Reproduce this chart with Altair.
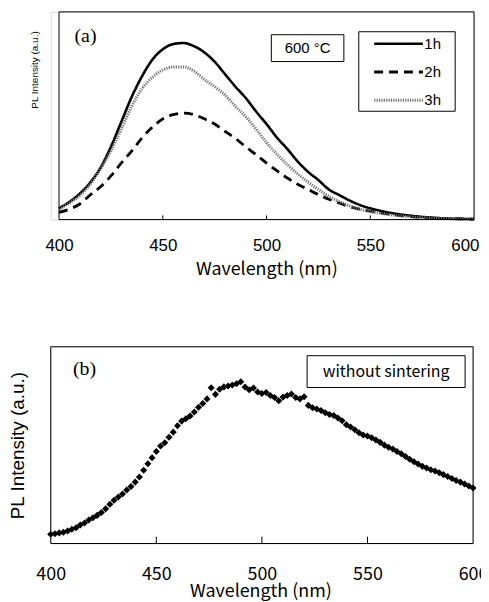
import altair as alt
import pandas as pd

# ---------------- data ----------------
wl_a = list(range(400, 601, 5))
i_1h = [0.055, 0.085, 0.125, 0.178, 0.25, 0.35, 0.47, 0.59, 0.69, 0.77, 0.82,
        0.845, 0.85, 0.835, 0.805, 0.76, 0.70, 0.64, 0.585, 0.52, 0.46, 0.395,
        0.34, 0.28, 0.23, 0.19, 0.145, 0.118, 0.092, 0.07, 0.054, 0.042, 0.032,
        0.024, 0.018, 0.013, 0.009, 0.006, 0.004, 0.003, 0.002]
i_2h = [0.035, 0.05, 0.075, 0.118, 0.158, 0.21, 0.272, 0.33, 0.393, 0.445, 0.485,
        0.505, 0.512, 0.505, 0.485, 0.46, 0.425, 0.39, 0.35, 0.312, 0.272, 0.235,
        0.2, 0.17, 0.145, 0.12, 0.098, 0.08, 0.062, 0.05, 0.04, 0.032, 0.025,
        0.019, 0.014, 0.01, 0.007, 0.005, 0.004, 0.003, 0.002]
i_3h = [0.05, 0.08, 0.115, 0.17, 0.245, 0.33, 0.435, 0.545, 0.63, 0.685, 0.72,
        0.735, 0.735, 0.715, 0.675, 0.64, 0.60, 0.545, 0.495, 0.435, 0.37, 0.315,
        0.265, 0.22, 0.18, 0.145, 0.112, 0.087, 0.066, 0.05, 0.038, 0.03, 0.023,
        0.017, 0.013, 0.009, 0.007, 0.005, 0.004, 0.003, 0.002]
series = ["1h", "2h", "3h"]

wl_b = list(range(400, 601, 2))
i_b = [0.047, 0.050, 0.054, 0.057, 0.064, 0.072, 0.080, 0.094, 0.104, 0.120,
       0.131, 0.143, 0.157, 0.176, 0.200, 0.220, 0.236, 0.252, 0.272, 0.290,
       0.312, 0.338, 0.372, 0.405, 0.436, 0.468, 0.495, 0.512, 0.540, 0.566,
       0.598, 0.622, 0.634, 0.648, 0.668, 0.692, 0.712, 0.735, 0.792, 0.758,
       0.784, 0.796, 0.800, 0.806, 0.812, 0.822, 0.795, 0.782, 0.790, 0.770,
       0.762, 0.768, 0.752, 0.742, 0.726, 0.744, 0.752, 0.760, 0.742, 0.735,
       0.746, 0.702, 0.690, 0.684, 0.676, 0.664, 0.656, 0.650, 0.638, 0.624,
       0.604, 0.592, 0.578, 0.563, 0.552, 0.546, 0.538, 0.526, 0.514, 0.500,
       0.489, 0.480, 0.468, 0.456, 0.442, 0.428, 0.416, 0.404, 0.392, 0.384,
       0.375, 0.368, 0.360, 0.350, 0.340, 0.330, 0.320, 0.312, 0.302, 0.292,
       0.282]

x_labels = [400, 450, 500, 550, 600]
inner_ticks = [450, 500, 550]
x_min, x_max = 400, 600

# ---------------- tables ----------------
rows = []
for name, vals in zip(series, [i_1h, i_2h, i_3h]):
    for w, v in zip(wl_a, vals):
        rows.append({"wl": w, "I": v, "series": name})
df_a = pd.DataFrame(rows)
df_b = pd.DataFrame({"wl": wl_b, "I": i_b})

frame_df = pd.DataFrame({"wl": [x_min, x_min, x_min, x_max],
                         "wl2": [x_max, x_max, x_min, x_max],
                         "I": [0, 1, 0, 0], "I2": [0, 1, 1, 1]})

SANS = "Liberation Sans"
GOTH = "Noto Sans CJK JP"
SERIF = "Liberation Serif"


def frame_layers(tick_h):
    fr = alt.Chart(frame_df).mark_rule(color="black", strokeWidth=1).encode(
        x="wl:Q", x2="wl2:Q", y="I:Q", y2="I2:Q")
    tk = alt.Chart(pd.DataFrame({"wl": inner_ticks, "I": [0] * 3, "I2": [tick_h] * 3})
                   ).mark_rule(color="black", strokeWidth=1).encode(
        x="wl:Q", y="I:Q", y2="I2:Q")
    return [fr, tk]


def one_text(txt, x, y, font, size, align="center"):
    return alt.Chart(pd.DataFrame({"label": [txt]})).mark_text(
        font=font, fontSize=size, color="black", align=align, baseline="middle"
    ).encode(x=alt.value(x), y=alt.value(y), text="label:N")


def box(x1, x2, y1, y2):
    return alt.Chart(pd.DataFrame({"k": [0]})).mark_rect(
        fill="white", fillOpacity=0, stroke="black", strokeWidth=1
    ).encode(x=alt.value(x1), x2=alt.value(x2), y=alt.value(y1), y2=alt.value(y2))


# ---------------- panel (a) ----------------
W_A, H_A = 426, 209
leg = alt.Legend(orient="none", legendX=324, legendY=25, title=None,
                 symbolType="stroke", symbolSize=2401, clipHeight=14,
                 rowPadding=13.5, labelFont=SANS, labelFontSize=15,
                 labelColor="black", labelOffset=0, padding=0)

lines_a = alt.Chart(df_a).mark_line(interpolate="monotone").encode(
    x=alt.X("wl:Q", scale=alt.Scale(domain=[396, 600], nice=False, zero=False),
            axis=alt.Axis(values=x_labels, ticks=False, domain=False, grid=False,
                          labelFont=SANS, labelFontSize=17, labelColor="black",
                          labelPadding=18, labelFlush=False, labelOverlap=False,
                          labelAlign=alt.expr("datum.value == 600 ? 'right' : 'center'"),
                          labelOffset=alt.expr("datum.value == 600 ? 5 : 0"),
                          title="Wavelength (nm)", titleFont=GOTH, titleFontSize=18,
                          titleFontWeight="normal", titleColor="black",
                          titleX=217, titleY=50, titleBaseline="middle")),
    y=alt.Y("I:Q", scale=alt.Scale(domain=[0, 1], nice=False),
            axis=alt.Axis(labels=False, ticks=False, domain=False, grid=False,
                          title="PL Intensity (a.u.)", titleFont=SANS,
                          titleFontSize=10, titleFontWeight="normal",
                          titleColor="black", titleX=-16, titleY=58,
                          titleAlign="center", titleBaseline="middle")),
    color=alt.Color("series:N", scale=alt.Scale(domain=series,
                    range=["black", "black", "#707070"]), legend=leg),
    strokeDash=alt.StrokeDash("series:N", scale=alt.Scale(domain=series,
                              range=[[1, 0], [9, 6], [1.2, 1.2]]), legend=leg),
    strokeWidth=alt.StrokeWidth("series:N", scale=alt.Scale(domain=series,
                                range=[2.6, 3, 1.1]), legend=leg),
)

panel_a = alt.layer(
    lines_a,
    *frame_layers(0.02),
    box(222, 295, 23, 50),
    one_text("600 °C", 258.5, 36.5, SANS, 15),
    box(310, 407, 20, 100),
    one_text("(a)", 35, 24, SERIF, 20),
).properties(width=W_A, height=H_A)

# ---------------- panel (b) ----------------
W_B, H_B = 425, 198
pts_b = alt.Chart(df_b).mark_point(shape="diamond", filled=True, color="black",
                                   size=50, opacity=1).encode(
    x=alt.X("wl:Q", scale=alt.Scale(domain=[x_min, x_max], nice=False, zero=False),
            axis=alt.Axis(values=x_labels, ticks=False, domain=False, grid=False,
                          labelFont=GOTH, labelFontSize=18, labelColor="black",
                          labelPadding=22, labelFlush=False, labelOverlap=False,
                          title="Wavelength (nm)", titleFont=GOTH, titleFontSize=18,
                          titleFontWeight="normal", titleColor="black",
                          titleX=211, titleY=48.5, titleBaseline="middle")),
    y=alt.Y("I:Q", scale=alt.Scale(domain=[0, 1], nice=False),
            axis=alt.Axis(labels=False, ticks=False, domain=False, grid=False,
                          title="PL Intensity (a.u.)", titleFont=SANS,
                          titleFontSize=19, titleFontWeight="normal",
                          titleColor="black", titleX=-33, titleY=99,
                          titleAlign="center", titleBaseline="middle")),
)

panel_b = alt.layer(
    pts_b,
    *frame_layers(0.035),
    box(258, 417, 9, 41),
    one_text("without sintering", 337.5, 25, GOTH, 16),
    one_text("(b)", 34, 22, SERIF, 20),
).properties(width=W_B, height=H_B)

chart = alt.vconcat(panel_a, panel_b, spacing=67).properties(
    padding={"left": 0, "top": 1, "right": -8, "bottom": 3}
).configure_view(stroke=None).configure(background="white")

chart.save("out.html", embed_options={"renderer": "svg", "actions": False})
